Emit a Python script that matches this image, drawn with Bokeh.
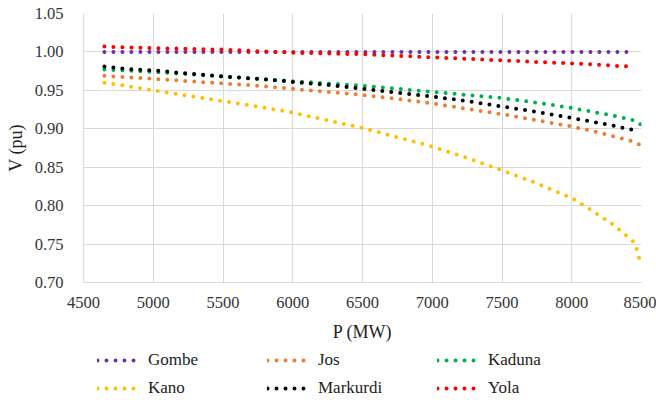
from bokeh.plotting import figure
from bokeh.layouts import column
from bokeh.models import Legend, LegendItem, FixedTicker, NumeralTickFormatter, Range1d
from bokeh.embed import file_html
from bokeh.resources import INLINE

# ---- data ----
P_MAIN = [4650, 4800, 5000, 5250, 5500, 5750, 6000, 6250, 6500, 6750,
          7000, 7250, 7500, 7750, 8000, 8150, 8300, 8450]
P_LONG = P_MAIN + [8500]
P_KANO = P_MAIN + [8475, 8490]

gombe = [1.000] * len(P_MAIN)
jos = [0.969, 0.967, 0.965, 0.962, 0.959, 0.956, 0.952, 0.948, 0.944, 0.939,
       0.933, 0.926, 0.919, 0.911, 0.903, 0.897, 0.890, 0.883, 0.878]
kaduna = [0.977, 0.976, 0.974, 0.971, 0.968, 0.965, 0.962, 0.959, 0.956, 0.952,
          0.948, 0.944, 0.940, 0.934, 0.927, 0.922, 0.917, 0.911, 0.905]
kano = [0.960, 0.956, 0.950, 0.943, 0.936, 0.929, 0.921, 0.911, 0.901, 0.889,
        0.877, 0.862, 0.846, 0.829, 0.810, 0.793, 0.775, 0.752, 0.738, 0.726]
markurdi = [0.981, 0.978, 0.976, 0.972, 0.968, 0.965, 0.961, 0.957, 0.952, 0.947,
            0.942, 0.936, 0.929, 0.922, 0.914, 0.909, 0.904, 0.898]
yola = [1.007, 1.006, 1.005, 1.004, 1.003, 1.001, 0.999, 0.998, 0.997, 0.995,
        0.993, 0.991, 0.989, 0.987, 0.985, 0.984, 0.982, 0.981]

series_names = ["Gombe", "Jos", "Kaduna", "Kano", "Markurdi", "Yola"]
series_x = [P_MAIN, P_LONG, P_LONG, P_KANO, P_MAIN, P_MAIN]
series_y = [gombe, jos, kaduna, kano, markurdi, yola]
series_colors = ["#7030A0", "#ED7D31", "#00B050", "#FFC000", "#000000", "#FF0000"]

x_ticks = [4500, 5000, 5500, 6000, 6500, 7000, 7500, 8000, 8500]
y_ticks = [0.70, 0.75, 0.80, 0.85, 0.90, 0.95, 1.00, 1.05]

FONT = "Liberation Serif"
DOT = dict(line_width=4, line_dash="0 9", line_cap="round")

p = figure(width=656, height=346, output_backend="svg", toolbar_location=None,
           x_range=Range1d(4500, 8500), y_range=Range1d(0.70, 1.05),
           min_border_left=83, min_border_right=15, min_border_top=13,
           min_border_bottom=64)
p.outline_line_color = None
p.background_fill_color = "white"

for xs, ys, col in zip(series_x, series_y, series_colors):
    p.line(xs, ys, line_color=col, **DOT)

for ax in (p.xaxis[0], p.yaxis[0]):
    ax.axis_line_color = "#D9D9D9"
    ax.major_tick_line_color = None
    ax.minor_tick_line_color = None
    ax.major_label_text_font = FONT
    ax.major_label_text_font_size = "16.5px"
    ax.major_label_text_color = "#333333"
    ax.axis_label_text_font = FONT
    ax.axis_label_text_font_size = "18px"
    ax.axis_label_text_font_style = "normal"
    ax.axis_label_text_color = "#222222"

p.xaxis.ticker = FixedTicker(ticks=x_ticks)
p.yaxis.ticker = FixedTicker(ticks=y_ticks)
p.yaxis.formatter = NumeralTickFormatter(format="0.00")
p.xaxis.axis_label = "P (MW)"
p.yaxis.axis_label = "V (pu)"
p.xaxis.major_label_standoff = 8
p.yaxis.major_label_standoff = 14
p.xaxis.axis_label_standoff = 11
p.yaxis.axis_label_standoff = 6

p.xgrid.ticker = FixedTicker(ticks=x_ticks)
p.ygrid.ticker = FixedTicker(ticks=y_ticks)
p.xgrid.grid_line_color = "#D9D9D9"
p.ygrid.grid_line_color = "#D9D9D9"

# legend strip below the chart (series drawn again, outside its visible range,
# only so that the legend has renderers to sample)
lg = figure(width=656, height=54, output_backend="svg", toolbar_location=None,
            x_range=Range1d(0, 1), y_range=Range1d(0, 1),
            x_axis_type=None, y_axis_type=None, min_border=0)
lg.outline_line_color = None
items = []
for name, xs, ys, col in zip(series_names, series_x, series_y, series_colors):
    r = lg.line(xs, ys, line_color=col, **DOT)
    items.append(LegendItem(label=name, renderers=[r]))

legend = Legend(items=items, ncols=3, orientation="horizontal", location=(14, 2),
                label_text_font=FONT, label_text_font_size="17px",
                label_text_color="#222222",
                glyph_width=45, glyph_height=20, label_width=111,
                label_standoff=6, spacing=8,
                padding=0, margin=0, border_line_color=None,
                background_fill_alpha=0)
lg.add_layout(legend, "center")

layout = column(p, lg, spacing=0)
open("out.html", "w").write(file_html(layout, INLINE))
